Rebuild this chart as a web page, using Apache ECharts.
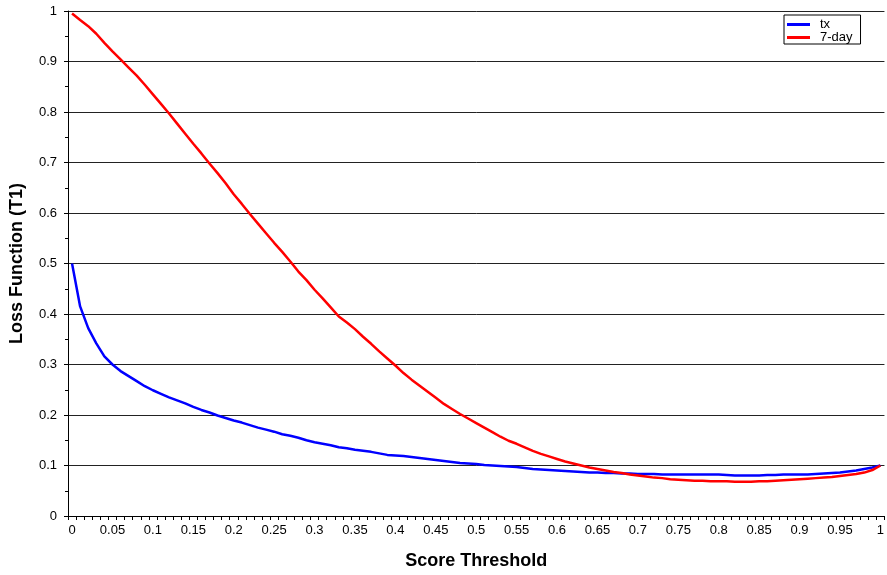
<!DOCTYPE html>
<html>
<head>
<meta charset="utf-8">
<script src="https://cdn.jsdelivr.net/npm/echarts@6/dist/echarts.min.js"></script>
<style>
html,body{margin:0;padding:0;background:#fff;}
#chart{width:887px;height:575px;}
</style>
</head>
<body>
<div id="chart"></div>
<script>
var categories = ['0','0.01','0.02','0.03','0.04','0.05','0.06','0.07','0.08','0.09',
'0.1','0.11','0.12','0.13','0.14','0.15','0.16','0.17','0.18','0.19',
'0.2','0.21','0.22','0.23','0.24','0.25','0.26','0.27','0.28','0.29',
'0.3','0.31','0.32','0.33','0.34','0.35','0.36','0.37','0.38','0.39',
'0.4','0.41','0.42','0.43','0.44','0.45','0.46','0.47','0.48','0.49',
'0.5','0.51','0.52','0.53','0.54','0.55','0.56','0.57','0.58','0.59',
'0.6','0.61','0.62','0.63','0.64','0.65','0.66','0.67','0.68','0.69',
'0.7','0.71','0.72','0.73','0.74','0.75','0.76','0.77','0.78','0.79',
'0.8','0.81','0.82','0.83','0.84','0.85','0.86','0.87','0.88','0.89',
'0.9','0.91','0.92','0.93','0.94','0.95','0.96','0.97','0.98','0.99','1'];

var txValues = [0.500,0.415,0.372,0.342,0.316,0.300,0.287,0.277,0.267,0.257,
0.249,0.242,0.235,0.229,0.223,0.216,0.210,0.205,0.199,0.194,
0.189,0.185,0.180,0.175,0.171,0.167,0.162,0.159,0.155,0.150,
0.146,0.143,0.140,0.136,0.134,0.131,0.129,0.127,0.124,0.121,
0.120,0.119,0.117,0.115,0.113,0.111,0.109,0.107,0.105,0.104,
0.103,0.101,0.100,0.099,0.098,0.097,0.095,0.093,0.092,0.091,
0.090,0.089,0.088,0.087,0.086,0.086,0.085,0.085,0.084,0.084,
0.083,0.083,0.083,0.082,0.082,0.082,0.082,0.082,0.082,0.082,
0.082,0.081,0.080,0.080,0.080,0.080,0.081,0.081,0.082,0.082,
0.082,0.082,0.083,0.084,0.085,0.086,0.088,0.090,0.093,0.096,0.100];

var sevenDayValues = [0.995,0.982,0.970,0.955,0.937,0.920,0.904,0.888,0.872,0.854,
0.835,0.816,0.797,0.777,0.757,0.737,0.718,0.698,0.679,0.659,
0.637,0.618,0.598,0.579,0.560,0.541,0.523,0.504,0.484,0.467,
0.448,0.431,0.413,0.395,0.383,0.370,0.355,0.341,0.326,0.312,
0.298,0.283,0.270,0.258,0.246,0.234,0.222,0.212,0.202,0.193,
0.184,0.175,0.166,0.157,0.149,0.143,0.136,0.129,0.123,0.118,
0.113,0.108,0.104,0.100,0.096,0.093,0.090,0.087,0.085,0.082,
0.080,0.078,0.076,0.075,0.073,0.072,0.071,0.070,0.070,0.069,
0.069,0.069,0.068,0.068,0.068,0.069,0.069,0.070,0.071,0.072,
0.073,0.074,0.075,0.076,0.077,0.079,0.081,0.083,0.086,0.091,0.100];

var seriesNames = ['tx', '7-day'];
var FONT = '"Liberation Sans", Arial, sans-serif';

var chart = echarts.init(document.getElementById('chart'), null, {renderer: 'canvas'});
chart.setOption({
  animation: false,
  backgroundColor: '#fff',
  grid: {left: 66, right: 1, top: 11, bottom: 57, containLabel: false},
  legend: {
    orient: 'vertical',
    left: 784, top: 15,
    data: seriesNames,
    icon: 'rect',
    itemWidth: 23, itemHeight: 3, itemGap: 0,
    padding: [3, 8, 0, 3],
    borderColor: '#000', borderWidth: 1,
    backgroundColor: '#fff',
    textStyle: {fontFamily: FONT, fontSize: 13, lineHeight: 12, color: '#000', padding: [0,0,0,5]}
  },
  xAxis: {
    type: 'category',
    data: categories,
    boundaryGap: true,
    name: 'Score Threshold',
    nameLocation: 'middle',
    nameGap: 36,
    nameTextStyle: {fontFamily: FONT, fontSize: 18, fontWeight: 'bold', color: '#000'},
    axisLine: {lineStyle: {color: '#000', width: 1}},
    axisTick: {show: true, interval: 0, length: 4, lineStyle: {color: '#000'}},
    axisLabel: {interval: 4, margin: 8, fontFamily: FONT, fontSize: 13, color: '#000'},
    splitLine: {show: false}
  },
  yAxis: {
    type: 'value',
    min: 0, max: 1, interval: 0.1,
    name: 'Loss Function (T1)',
    nameLocation: 'middle',
    nameGap: 42,
    nameTextStyle: {fontFamily: FONT, fontSize: 18, fontWeight: 'bold', color: '#000'},
    axisLine: {show: true, lineStyle: {color: '#000', width: 1}},
    axisTick: {show: true, length: 4, lineStyle: {color: '#000'}},
    minorTick: {show: true, splitNumber: 2, length: 3, lineStyle: {color: '#000'}},
    axisLabel: {margin: 11, fontFamily: FONT, fontSize: 13, color: '#000'},
    splitLine: {show: true, lineStyle: {color: '#222', width: 1}}
  },
  series: [
    {name: seriesNames[0], type: 'line', data: txValues, showSymbol: false, symbol: 'none',
     lineStyle: {color: '#0000ff', width: 2.5}, itemStyle: {color: '#0000ff'}},
    {name: seriesNames[1], type: 'line', data: sevenDayValues, showSymbol: false, symbol: 'none',
     lineStyle: {color: '#ff0000', width: 2.5}, itemStyle: {color: '#ff0000'}}
  ]
});
</script>
</body>
</html>
